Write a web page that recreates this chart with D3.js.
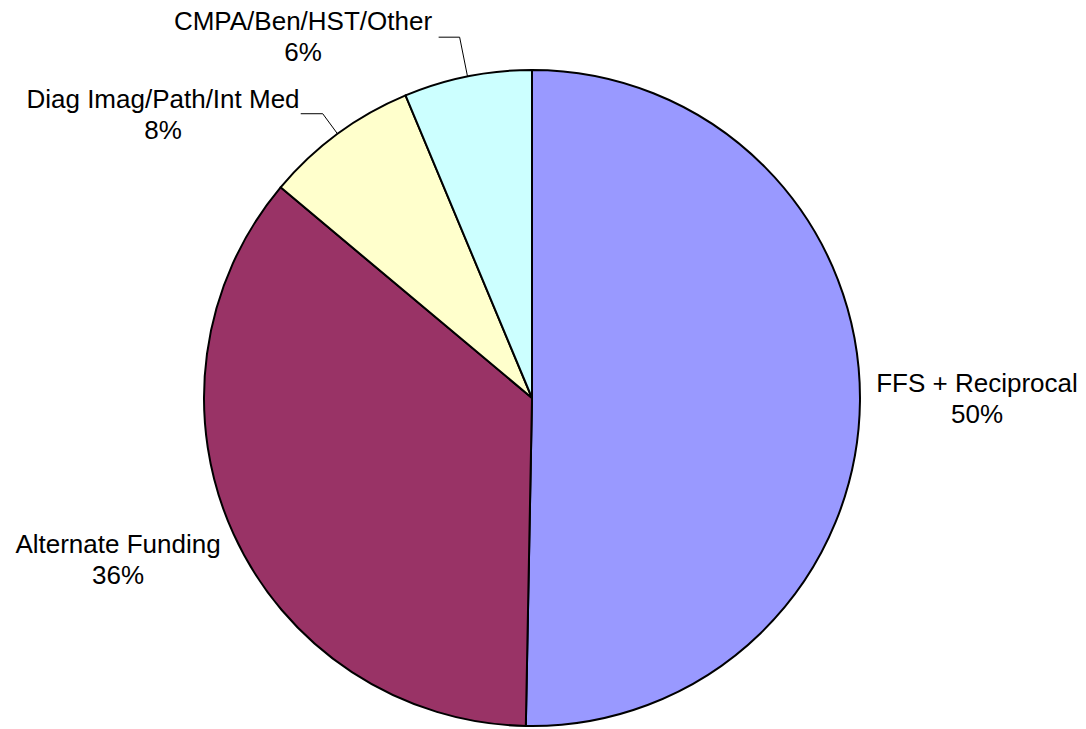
<!DOCTYPE html>
<html>
<head>
<meta charset="utf-8">
<script src="https://cdn.jsdelivr.net/npm/d3@7"></script>
<style>
  html, body { margin: 0; padding: 0; background: #fff; }
  svg { display: block; }
  text { font-family: "Liberation Sans", Arial, sans-serif; font-size: 26px; fill: #000; }
</style>
</head>
<body>
<div id="chart"></div>
<script>
// slice data, clockwise from 12 o'clock
const categories = ["FFS + Reciprocal", "Alternate Funding", "Diag Imag/Path/Int Med", "CMPA/Ben/HST/Other"];
const values = [50.3, 35.8, 7.6, 6.3];
const percentLabels = ["50%", "36%", "8%", "6%"];
const colors = ["#9999FF", "#993366", "#FFFFCC", "#CCFFFF"];

const width = 1086, height = 729;
const cx = 532, cy = 398, radius = 328;

const svg = d3.select("#chart").append("svg")
  .attr("width", width).attr("height", height);

const g = svg.append("g").attr("transform", `translate(${cx},${cy})`);

const pie = d3.pie().sort(null).value(d => d.value);
const arcs = pie(categories.map((c, i) => ({name: c, value: values[i], pct: percentLabels[i], color: colors[i]})));

const arc = d3.arc().innerRadius(0).outerRadius(radius);

g.selectAll("path.slice").data(arcs).enter().append("path")
  .attr("class", "slice")
  .attr("d", arc)
  .attr("fill", d => d.data.color)
  .attr("stroke", "#000")
  .attr("stroke-width", 2)
  .attr("stroke-linejoin", "round");

// label placement (offsets from pie centre) and leader lines
const labelPos = [
  {x: 445, y: -6, leader: null},
  {x: -414, y: 155, leader: null},
  {x: -369, y: -290, leader: {out: 25, tail: 22}},
  {x: -229, y: -368, leader: {out: 40, tail: 21}}
];

arcs.forEach((d, i) => {
  const p = labelPos[i];
  const mid = (d.startAngle + d.endAngle) / 2;
  if (p.leader) {
    const p0 = [radius * Math.sin(mid), -radius * Math.cos(mid)];
    const r1 = radius + p.leader.out;
    const p1 = [r1 * Math.sin(mid), -r1 * Math.cos(mid)];
    const p2 = [p1[0] - p.leader.tail, p1[1]];
    g.append("path")
      .attr("d", d3.line()([p0, p1, p2]))
      .attr("fill", "none")
      .attr("stroke", "#000")
      .attr("stroke-width", 1);
  }
  const t = g.append("text")
    .attr("text-anchor", "middle")
    .attr("transform", `translate(${p.x},${p.y})`);
  t.append("tspan").attr("x", 0).attr("y", 0).text(d.data.name);
  t.append("tspan").attr("x", 0).attr("y", 31).text(d.data.pct);
});
</script>
</body>
</html>
